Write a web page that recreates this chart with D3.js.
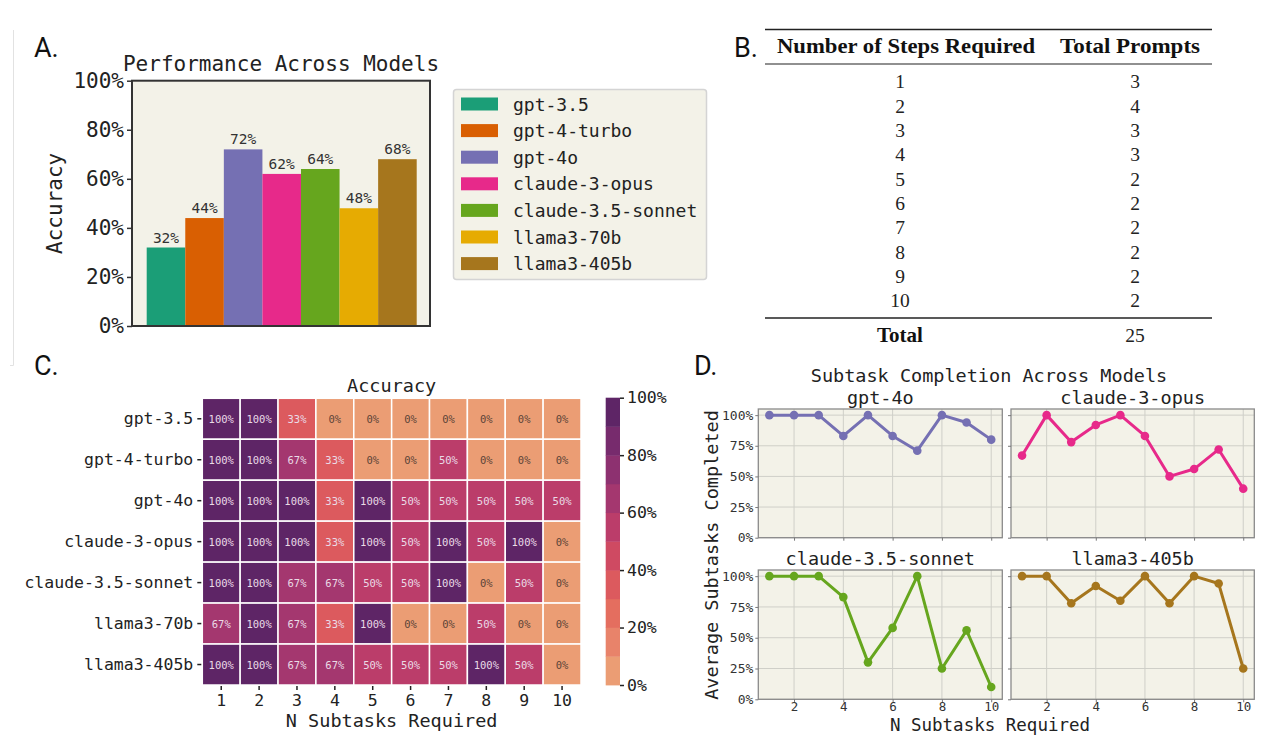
<!DOCTYPE html>
<html>
<head>
<meta charset="utf-8">
<script src="https://cdn.jsdelivr.net/npm/d3@7"></script>
<style>
  html, body { margin: 0; padding: 0; background: #fff; }
  svg { display: block; }
</style>
</head>
<body>
<svg id="chart" width="1270" height="735"></svg>
<script>
// ---------------- DATA ----------------
const models = ["gpt-3.5", "gpt-4-turbo", "gpt-4o", "claude-3-opus", "claude-3.5-sonnet", "llama3-70b", "llama3-405b"];
const overallAccuracy = [0.32, 0.44, 0.72, 0.62, 0.64, 0.48, 0.68];
const accuracyTicks = [0, 0.2, 0.4, 0.6, 0.8, 1.0];

const tableHeader = ["Number of Steps Required", "Total Prompts"];
const tableSteps = [1, 2, 3, 4, 5, 6, 7, 8, 9, 10];
const tablePrompts = [3, 4, 3, 3, 2, 2, 2, 2, 2, 2];
const tableTotal = ["Total", 25];

const nSubtasks = [1, 2, 3, 4, 5, 6, 7, 8, 9, 10];
const heatGpt35      = [100, 100, 33, 0, 0, 0, 0, 0, 0, 0];
const heatGpt4Turbo  = [100, 100, 67, 33, 0, 0, 50, 0, 0, 0];
const heatGpt4o      = [100, 100, 100, 33, 100, 50, 50, 50, 50, 50];
const heatOpus       = [100, 100, 100, 33, 100, 50, 100, 50, 100, 0];
const heatSonnet     = [100, 100, 67, 67, 50, 50, 100, 0, 50, 0];
const heatLlama70    = [67, 100, 67, 33, 100, 0, 0, 50, 0, 0];
const heatLlama405   = [100, 100, 67, 67, 50, 50, 50, 100, 50, 0];
const heatRows = [heatGpt35, heatGpt4Turbo, heatGpt4o, heatOpus, heatSonnet, heatLlama70, heatLlama405];
const colorbarTicks = [0, 20, 40, 60, 80, 100];

const completionModels = ["gpt-4o", "claude-3-opus", "claude-3.5-sonnet", "llama3-405b"];
const completionGpt4o  = [1.00, 1.00, 1.00, 0.83, 1.00, 0.83, 0.71, 1.00, 0.94, 0.80];
const completionOpus   = [0.67, 1.00, 0.78, 0.92, 1.00, 0.83, 0.50, 0.56, 0.72, 0.40];
const completionSonnet = [1.00, 1.00, 1.00, 0.83, 0.30, 0.58, 1.00, 0.25, 0.56, 0.10];
const completionL405   = [1.00, 1.00, 0.78, 0.92, 0.80, 1.00, 0.78, 1.00, 0.94, 0.25];
const completionSeries = [completionGpt4o, completionOpus, completionSonnet, completionL405];
const completionYTicks = [0, 0.25, 0.5, 0.75, 1.0];
const completionXTicks = [2, 4, 6, 8, 10];

// ---------------- STYLE ----------------
const modelColors = ["#1b9e77", "#d95f02", "#7570b3", "#e7298a", "#66a61e", "#e6ab02", "#a6761d"];
const heatColors = ["#eb9d74", "#e8836a", "#e46e5f", "#dc5a5e", "#cf4a62", "#bb3d6a", "#a4376f", "#8d3170", "#772b6d", "#5e2566"];
const beige = "#f3f2e8";
const MONO = "DejaVu Sans Mono, monospace";
const SANS = "Roboto, 'Open Sans', sans-serif";
const SERIF = "'Liberation Serif', 'DejaVu Serif', serif";

const svg = d3.select("#chart");
svg.append("rect").attr("width", 1270).attr("height", 735).attr("fill", "#fff");

// faint frame artifact
svg.append("path").attr("d", "M13.5,30 V365.5 H10").attr("fill", "none").attr("stroke", "#e2e2e2").attr("stroke-width", 1);

// panel letters
[["A.", 34, 57], ["B.", 734, 57], ["C.", 34, 375], ["D.", 694, 375]].forEach(([t, x, y]) => {
  svg.append("text").attr("x", x).attr("y", y).attr("font-family", SANS).attr("font-size", 27)
    .attr("fill", "#111").text(t);
});

// ================= PANEL A =================
{
  const L = 132, R = 430, T = 80.7, B = 326;
  const g = svg.append("g");
  g.append("rect").attr("x", L).attr("y", T).attr("width", R - L).attr("height", B - T).attr("fill", beige);
  const x = d3.scaleBand().domain(models).range([146.7, 416.7]).padding(0);
  const y = d3.scaleLinear().domain([0, 1]).range([B, T]);

  g.selectAll(".bar").data(models).join("rect")
    .attr("x", d => x(d)).attr("width", x.bandwidth())
    .attr("y", (d, i) => y(overallAccuracy[i])).attr("height", (d, i) => B - y(overallAccuracy[i]))
    .attr("fill", (d, i) => modelColors[i]);

  g.selectAll(".blabel").data(models).join("text")
    .attr("x", d => x(d) + x.bandwidth() / 2).attr("y", (d, i) => y(overallAccuracy[i]) - 5)
    .attr("text-anchor", "middle").attr("font-family", MONO).attr("font-size", 14.5).attr("fill", "#333")
    .text((d, i) => d3.format(".0%")(overallAccuracy[i]));

  g.append("rect").attr("x", L).attr("y", T).attr("width", R - L).attr("height", B - T)
    .attr("fill", "none").attr("stroke", "#333").attr("stroke-width", 2);

  const ax = g.append("g").attr("transform", `translate(${L},0)`)
    .call(d3.axisLeft(y).tickValues(accuracyTicks).tickFormat(d3.format(".0%")).tickSize(5).tickPadding(3));
  ax.select(".domain").remove();
  ax.selectAll("line").attr("stroke", "#333").attr("stroke-width", 1.5);
  ax.selectAll("text").attr("font-family", MONO).attr("font-size", 21).attr("fill", "#222");

  g.append("text").attr("x", (L + R) / 2).attr("y", 71).attr("text-anchor", "middle")
    .attr("font-family", MONO).attr("font-size", 21).attr("fill", "#222").text("Performance Across Models");
  g.append("text").attr("transform", `translate(55,${(T + B) / 2}) rotate(-90)`)
    .attr("text-anchor", "middle").attr("dominant-baseline", "central")
    .attr("font-family", MONO).attr("font-size", 21).attr("fill", "#222").text("Accuracy");

  // legend
  const lg = svg.append("g");
  lg.append("rect").attr("x", 453.5).attr("y", 89.5).attr("width", 253).attr("height", 190).attr("rx", 3)
    .attr("fill", beige).attr("stroke", "#d4d4d4").attr("stroke-width", 1.5);
  const ly = d3.scalePoint().domain(models).range([104, 104 + 6 * 26.6]);
  lg.selectAll(".sw").data(models).join("rect")
    .attr("x", 461).attr("y", d => ly(d) - 6.5).attr("width", 37).attr("height", 13)
    .attr("fill", (d, i) => modelColors[i]);
  lg.selectAll(".lt").data(models).join("text")
    .attr("x", 513).attr("y", d => ly(d)).attr("dominant-baseline", "central")
    .attr("font-family", MONO).attr("font-size", 18).attr("fill", "#222").text(d => d);
}

// ================= PANEL B (table) =================
{
  const g = svg.append("g");
  const x1 = 765, x2 = 1212;
  const c1 = 900, c2 = 1135;
  g.append("line").attr("x1", x1).attr("x2", x2).attr("y1", 29.5).attr("y2", 29.5).attr("stroke", "#222").attr("stroke-width", 1.6);
  g.append("line").attr("x1", x1).attr("x2", x2).attr("y1", 64).attr("y2", 64).attr("stroke", "#222").attr("stroke-width", 1.1);
  g.append("line").attr("x1", x1).attr("x2", x2).attr("y1", 318).attr("y2", 318).attr("stroke", "#222").attr("stroke-width", 1.6);
  g.append("text").attr("x", 777).attr("y", 53).attr("font-family", SERIF)
    .attr("font-weight", "bold").attr("font-size", 21).attr("fill", "#111")
    .attr("textLength", 258).attr("lengthAdjust", "spacingAndGlyphs").text(tableHeader[0]);
  g.append("text").attr("x", 1060).attr("y", 53).attr("font-family", SERIF)
    .attr("font-weight", "bold").attr("font-size", 21).attr("fill", "#111")
    .attr("textLength", 140).attr("lengthAdjust", "spacingAndGlyphs").text(tableHeader[1]);
  const ry = d3.scalePoint().domain(tableSteps).range([88.3, 307.3]);
  g.selectAll(".s").data(tableSteps).join("text").attr("x", c1).attr("y", d => ry(d))
    .attr("text-anchor", "middle").attr("font-family", SERIF).attr("font-size", 19.5).attr("fill", "#222").text(d => d);
  g.selectAll(".p").data(tableSteps).join("text").attr("x", c2).attr("y", d => ry(d))
    .attr("text-anchor", "middle").attr("font-family", SERIF).attr("font-size", 19.5).attr("fill", "#222")
    .text((d, i) => tablePrompts[i]);
  g.append("text").attr("x", c1).attr("y", 341.5).attr("text-anchor", "middle").attr("font-family", SERIF)
    .attr("font-weight", "bold").attr("font-size", 21).attr("fill", "#111").text(tableTotal[0]);
  g.append("text").attr("x", c2).attr("y", 341.5).attr("text-anchor", "middle").attr("font-family", SERIF)
    .attr("font-size", 19.5).attr("fill", "#222").text(tableTotal[1]);
}

// ================= PANEL C (heatmap) =================
{
  const g = svg.append("g");
  const L = 202.3, R = 581, T = 398.3, B = 685;
  const x = d3.scaleBand().domain(nSubtasks).range([L, R]);
  const y = d3.scaleBand().domain(models).range([T, B]);
  const col = d3.scaleQuantize().domain([0, 100]).range(heatColors);
  const cells = [];
  heatRows.forEach((row, j) => row.forEach((v, i) => cells.push({ m: models[j], n: nSubtasks[i], v })));
  g.selectAll(".cell").data(cells).join("rect")
    .attr("x", d => x(d.n)).attr("y", d => y(d.m)).attr("width", x.bandwidth()).attr("height", y.bandwidth())
    .attr("fill", d => col(d.v)).attr("stroke", "#fff").attr("stroke-width", 1.5);
  g.selectAll(".ct").data(cells).join("text")
    .attr("x", d => x(d.n) + x.bandwidth() / 2).attr("y", d => y(d.m) + y.bandwidth() / 2)
    .attr("text-anchor", "middle").attr("dominant-baseline", "central")
    .attr("font-family", MONO).attr("font-size", 10.5)
    .attr("fill", d => d.v < 20 ? "#5b4438" : "#eadbe6").text(d => d.v + "%");

  const ay = g.append("g").attr("transform", `translate(${L - 1},0)`)
    .call(d3.axisLeft(y).tickSize(4).tickPadding(4));
  ay.select(".domain").remove();
  ay.selectAll("line").attr("stroke", "#222").attr("stroke-width", 1.5);
  ay.selectAll("text").attr("font-family", MONO).attr("font-size", 16.5).attr("fill", "#222");

  const ax = g.append("g").attr("transform", `translate(0,${B + 1})`)
    .call(d3.axisBottom(x).tickSize(4).tickPadding(4));
  ax.select(".domain").remove();
  ax.selectAll("line").attr("stroke", "#222").attr("stroke-width", 1.5);
  ax.selectAll("text").attr("font-family", MONO).attr("font-size", 16.5).attr("fill", "#222");

  g.append("text").attr("x", (L + R) / 2).attr("y", 391.5).attr("text-anchor", "middle")
    .attr("font-family", MONO).attr("font-size", 18.5).attr("fill", "#222").text("Accuracy");
  g.append("text").attr("x", (L + R) / 2).attr("y", 727).attr("text-anchor", "middle")
    .attr("font-family", MONO).attr("font-size", 18.5).attr("fill", "#222").text("N Subtasks Required");

  // colorbar
  const cbL = 605.7, cbW = 14.3, cbT = 397.7, cbB = 685;
  const cy = d3.scaleLinear().domain([0, 100]).range([cbB, cbT]);
  const bands = d3.range(heatColors.length);
  g.selectAll(".cb").data(bands).join("rect")
    .attr("x", cbL).attr("width", cbW)
    .attr("y", i => cy((i + 1) * 10)).attr("height", i => cy(i * 10) - cy((i + 1) * 10) + 0.4)
    .attr("fill", i => heatColors[i]);
  const ac = g.append("g").attr("transform", `translate(${cbL + cbW},0)`)
    .call(d3.axisRight(cy).tickValues(colorbarTicks).tickFormat(d => d + "%").tickSize(4).tickPadding(3));
  ac.select(".domain").remove();
  ac.selectAll("line").attr("stroke", "#222").attr("stroke-width", 1.5);
  ac.selectAll("text").attr("font-family", MONO).attr("font-size", 16.5).attr("fill", "#222");
}

// ================= PANEL D (small multiples) =================
{
  const g = svg.append("g");
  const cols = [[758.3, 1002.3], [1011, 1254.3]];
  const rows = [[409, 537.7], [570, 699.3]];
  const fmt = d3.format(".0%");
  completionModels.forEach((name, k) => {
    const [L, R] = cols[k % 2];
    const [T, B] = rows[Math.floor(k / 2)];
    const colr = modelColors[models.indexOf(name)];
    const x = d3.scaleLinear().domain([0.55, 10.45]).range([L, R]);
    const y = d3.scaleLinear().domain([0, 1.05]).range([B, T]);
    const sg = g.append("g");
    sg.append("rect").attr("x", L).attr("y", T).attr("width", R - L).attr("height", B - T).attr("fill", beige);
    sg.selectAll(".gx").data(completionXTicks).join("line")
      .attr("x1", d => x(d)).attr("x2", d => x(d)).attr("y1", T).attr("y2", B)
      .attr("stroke", "#cfcfc8").attr("stroke-width", 1);
    sg.selectAll(".gy").data(completionYTicks).join("line")
      .attr("x1", L).attr("x2", R).attr("y1", d => y(d)).attr("y2", d => y(d))
      .attr("stroke", "#cfcfc8").attr("stroke-width", 1);
    const vals = completionSeries[k];
    const line = d3.line().x((d, i) => x(nSubtasks[i])).y(d => y(d));
    sg.append("path").datum(vals).attr("d", line).attr("fill", "none").attr("stroke", colr)
      .attr("stroke-width", 3).attr("stroke-linejoin", "round");
    sg.selectAll(".pt").data(vals).join("circle")
      .attr("cx", (d, i) => x(nSubtasks[i])).attr("cy", d => y(d)).attr("r", 4.3).attr("fill", colr);
    sg.append("rect").attr("x", L).attr("y", T).attr("width", R - L).attr("height", B - T)
      .attr("fill", "none").attr("stroke", "#8a8a8a").attr("stroke-width", 1.3);

    const isLeft = k % 2 === 0, isBottom = k >= 2;
    const ax = sg.append("g").attr("transform", `translate(0,${B})`)
      .call(d3.axisBottom(x).tickValues(completionXTicks).tickSize(3).tickPadding(0)
        .tickFormat(isBottom ? d3.format("d") : () => ""));
    ax.select(".domain").remove();
    ax.selectAll("line").attr("stroke", "#777");
    ax.selectAll("text").attr("font-family", MONO).attr("font-size", 12.5).attr("fill", "#333");
    const ay = sg.append("g").attr("transform", `translate(${L},0)`)
      .call(d3.axisLeft(y).tickValues(completionYTicks).tickSize(3).tickPadding(2)
        .tickFormat(isLeft ? fmt : () => ""));
    ay.select(".domain").remove();
    ay.selectAll("line").attr("stroke", "#777");
    ay.selectAll("text").attr("font-family", MONO).attr("font-size", 13).attr("fill", "#333");

    sg.append("text").attr("x", (L + R) / 2).attr("y", T - 5).attr("text-anchor", "middle")
      .attr("font-family", MONO).attr("font-size", 18.5).attr("fill", "#222").text(name);
  });
  g.append("text").attr("x", 989).attr("y", 381.5).attr("text-anchor", "middle")
    .attr("font-family", MONO).attr("font-size", 18.5).attr("fill", "#222").text("Subtask Completion Across Models");
  g.append("text").attr("transform", "translate(711,555) rotate(-90)").attr("text-anchor", "middle")
    .attr("dominant-baseline", "central").attr("font-family", MONO).attr("font-size", 18.5).attr("fill", "#222")
    .text("Average Subtasks Completed");
  g.append("text").attr("x", 990).attr("y", 730.5).attr("text-anchor", "middle")
    .attr("font-family", MONO).attr("font-size", 17.5).attr("fill", "#222").text("N Subtasks Required");
}
</script>
</body>
</html>
